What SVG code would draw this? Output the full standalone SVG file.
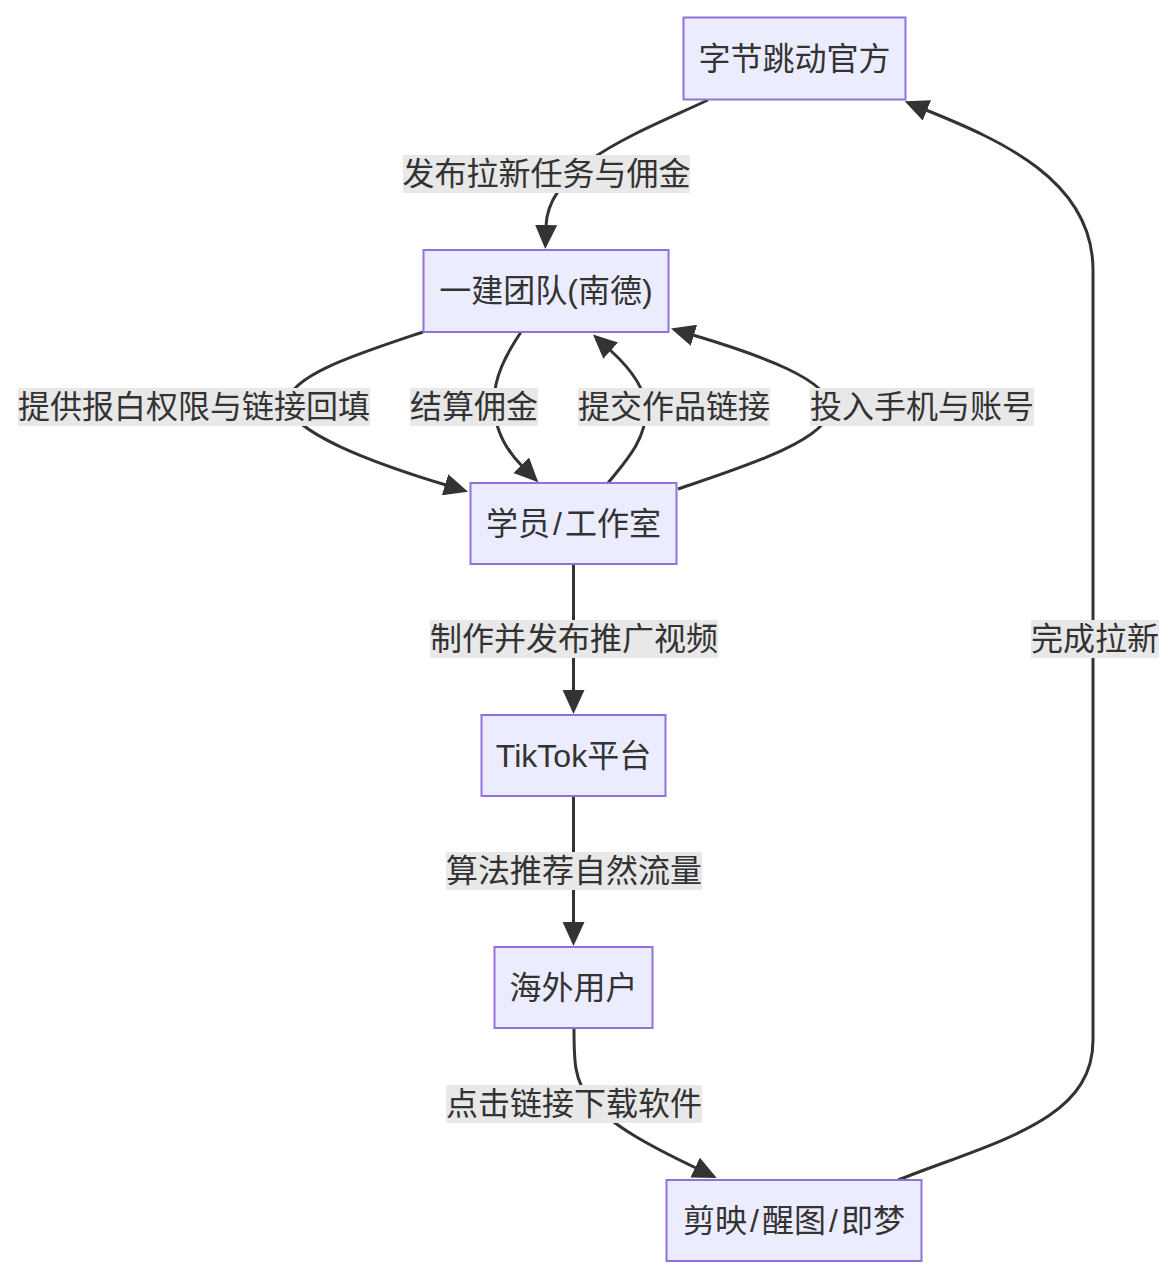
<svg xmlns="http://www.w3.org/2000/svg" width="1176" height="1278" viewBox="0 0 1176 1278">
<defs>
<marker id="arr" viewBox="0 0 24 22" refX="1" refY="11" markerWidth="24" markerHeight="22" markerUnits="userSpaceOnUse" orient="auto">
<path d="M0,0 L24,11 L0,22 z" fill="#333"/>
</marker>
</defs>
<style>
.node rect{fill:#ececff;stroke:#9370db;stroke-width:2}
.node text,.lbl text{font-family:"Liberation Sans","Noto Sans CJK SC",sans-serif;font-size:32px;fill:#333;text-anchor:middle;dominant-baseline:central}
.edge{fill:none;stroke:#333;stroke-width:3;marker-end:url(#arr)}
.lbl rect{fill:#e8e8e8}
</style>
<rect width="1176" height="1278" fill="#fff"/>
<g id="connectors">
<path class="edge" d="M708,100 C640,132 548,165 546,226"/>
<path class="edge" d="M423,332 C360,353 290,375 288,402 C286,432 380,465 446,485"/>
<path class="edge" d="M521,332 C505,356 494,378 494,402 C494,428 506,450 522,466"/>
<path class="edge" d="M608,483 C625,462 646,440 646,410 C646,388 630,368 610,350"/>
<path class="edge" d="M678,489 C740,468 830,440 830,408 C830,380 760,355 693,335"/>
<path class="edge" d="M573.5,564 L573.5,691"/>
<path class="edge" d="M573.5,796 L573.5,923"/>
<path class="edge" d="M574,1029 C574,1060 574,1080 590,1100 C610,1125 652,1147 696,1168"/>
<path class="edge" d="M898,1180 C1000,1140 1093,1120 1093,1040 L1093,270 C1093,180 1000,140 926,110"/>
</g>
<g id="edge-labels">
<g class="lbl"><rect x="403" y="155" width="287" height="38"/><text x="546.5" y="174">发布拉新任务与佣金</text></g>
<g class="lbl"><rect x="18" y="388" width="352" height="38"/><text x="194" y="407">提供报白权限与链接回填</text></g>
<g class="lbl"><rect x="410" y="388" width="128" height="38"/><text x="474" y="407">结算佣金</text></g>
<g class="lbl"><rect x="578" y="388" width="192" height="38"/><text x="674" y="407">提交作品链接</text></g>
<g class="lbl"><rect x="810" y="388" width="224" height="38"/><text x="922" y="407">投入手机与账号</text></g>
<g class="lbl"><rect x="430" y="620" width="288" height="38"/><text x="574" y="639">制作并发布推广视频</text></g>
<g class="lbl"><rect x="1031" y="620" width="128" height="38"/><text x="1095" y="639">完成拉新</text></g>
<g class="lbl"><rect x="446" y="852" width="256" height="38"/><text x="574" y="871">算法推荐自然流量</text></g>
<g class="lbl"><rect x="446" y="1085" width="256" height="38"/><text x="574" y="1104">点击链接下载软件</text></g>
</g>
<g id="node-official" class="node"><rect x="683.5" y="17.5" width="222" height="82"/><text x="794.5" y="58.5">字节跳动官方</text></g>
<g id="node-team" class="node"><rect x="423.5" y="250" width="245" height="82"/><text x="546" y="291">一建团队(南德)</text></g>
<g id="node-student" class="node"><rect x="470.5" y="483" width="206" height="81"/><text x="573.5" y="523.5">学员<tspan dx="3">/</tspan><tspan dx="3">工作室</tspan></text></g>
<g id="node-tiktok" class="node"><rect x="481.5" y="715" width="184" height="81"/><text x="573.5" y="755.5">TikTok平台</text></g>
<g id="node-users" class="node"><rect x="494.5" y="947" width="158" height="81"/><text x="573.5" y="987.5">海外用户</text></g>
<g id="node-apps" class="node"><rect x="666.5" y="1180" width="255" height="81"/><text x="794" y="1220.5">剪映<tspan dx="3">/</tspan><tspan dx="3">醒图</tspan><tspan dx="3">/</tspan><tspan dx="3">即梦</tspan></text></g>
</svg>
